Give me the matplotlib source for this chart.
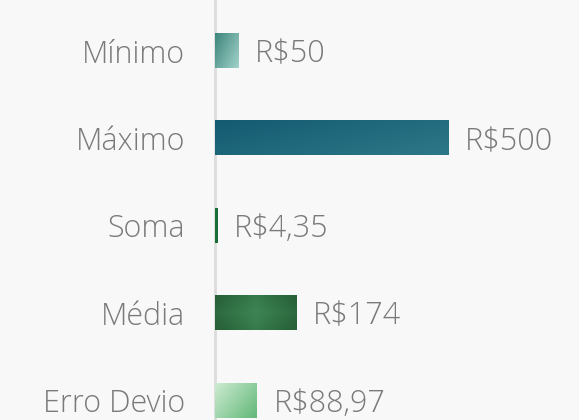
import numpy as np
import matplotlib
matplotlib.use("Agg")
import matplotlib.pyplot as plt

categorias = ["Mínimo", "Máximo", "Soma", "Média", "Erro Devio"]
valores = [50, 500, 4.35, 174, 88.97]
rotulos = ["R$50", "R$500", "R$4,35", "R$174", "R$88,97"]

# gradient colours per bar: (start, end, kind)
gradientes = [
    ("#3d857b", "#a2d3ca", "diag"),
    ("#145a71", "#2d7888", "diag"),
    ("#1b6e38", "#1b6e38", "diag"),
    ("#286238", "#3d8555", "radial"),
    ("#cdebd2", "#62b878", "diag"),
]

def hex2rgb(h):
    return np.array([int(h[i:i + 2], 16) / 255 for i in (1, 3, 5)])

def gradiente(c0, c1, kind, n=64):
    a, b = hex2rgb(c0), hex2rgb(c1)
    yy, xx = np.mgrid[0:1:n * 1j, 0:1:n * 1j]
    if kind == "radial":
        t = 1 - np.clip(np.abs(xx - 0.5) * 2 * 0.8 + np.abs(yy - 0.5) * 0.6, 0, 1)
    else:
        t = (xx * 0.6 + yy * 0.4)
    return a[None, None, :] * (1 - t[..., None]) + b[None, None, :] * t[..., None]

bg = "#f8f8f8"
fig = plt.figure(figsize=(5.79, 4.20), dpi=100, facecolor=bg)
ax = fig.add_axes([215 / 579, 0, 1 - 215 / 579, 1])
ax.set_facecolor(bg)

y = np.arange(len(categorias))
barras = ax.barh(y, valores, height=0.4, color="none", zorder=2)
for barra, (c0, c1, kind) in zip(barras, gradientes):
    x0, y0 = barra.get_x(), barra.get_y()
    w, h = barra.get_width(), barra.get_height()
    img = ax.imshow(gradiente(c0, c1, kind), extent=[x0, x0 + w, y0 + h, y0],
                    aspect="auto", interpolation="bilinear", zorder=2)
    img.set_clip_path(barra)

fonte = {"family": ["Open Sans", "DejaVu Sans"], "weight": "light"}
for v, r, yi in zip(valores, rotulos, y):
    ax.annotate(r, (v, yi), xytext=(17, 0), textcoords="offset pixels",
                ha="left", va="center_baseline", fontsize=22, color="#7a7a7a", **fonte)

ax.set_xlim(0, 781)
ax.set_ylim(4.228, -0.578)
ax.set_yticks(y)
ax.set_yticklabels(categorias, fontsize=22, color="#7a7a7a", va="center_baseline", **fonte)
ax.tick_params(axis="y", length=0, pad=21.5)
ax.set_xticks([])
for s in ["top", "right", "bottom"]:
    ax.spines[s].set_visible(False)
ax.spines["left"].set_color("#dcdcdc")
ax.spines["left"].set_linewidth(2)
ax.spines["left"].set_zorder(1)

fig.savefig("out.png", dpi=100, facecolor=bg)
